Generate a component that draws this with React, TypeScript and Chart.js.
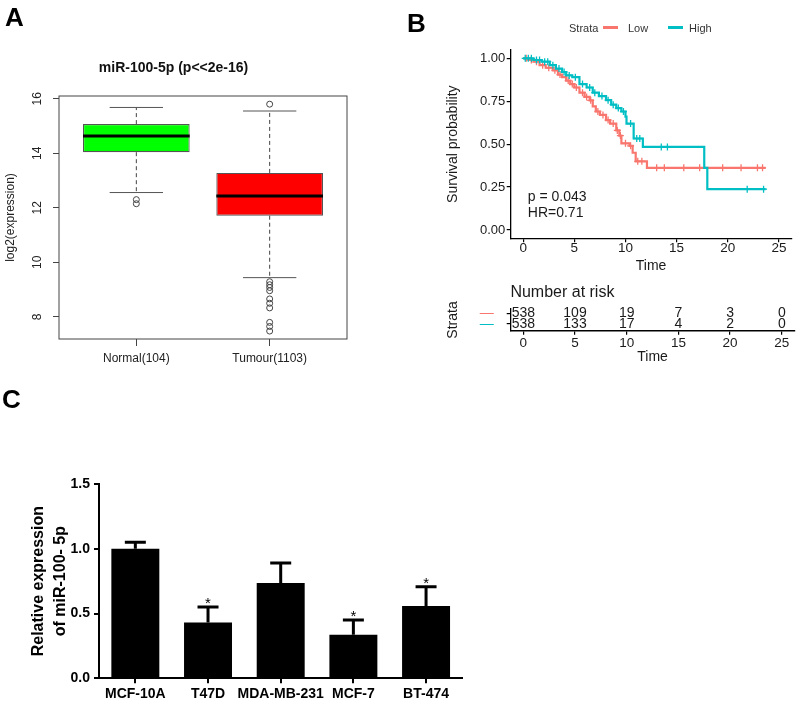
import React, { useEffect, useRef } from 'react';
import { Chart, registerables } from 'chart.js';

Chart.register(...registerables);

const FONT = "'Liberation Sans', Arial, Helvetica, sans-serif";
Chart.defaults.font.family = FONT;

// ---------------- Panel A : box plot ----------------
const boxCategories = ['Normal(104)', 'Tumour(1103)'];
const boxLowerWhisker = [12.56, 9.44];
const boxQ1 = [14.04, 11.71];
const boxMedian = [14.63, 12.43];
const boxQ3 = [15.07, 13.28];
const boxUpperWhisker = [15.68, 15.55];
const normalOutliers = [12.3, 12.15];
const tumourOutliers = [15.8, 9.29, 9.18, 9.08, 8.96, 8.66, 8.5, 8.33, 7.8, 7.65, 7.48];
const boxFill = ['#00FF00', '#FF0000'];
const boxYTicks = [8, 10, 12, 14, 16];
const boxTitle = 'miR-100-5p (p<<2e-16)';

// ---------------- Panel B : Kaplan-Meier ----------------
const kmLowTime = [0, 0.5, 1.0, 1.6, 2.2, 2.9, 3.4, 3.8, 4.2, 4.6, 5.0, 5.5, 6.0, 6.5, 6.8, 7.1, 7.5, 8.1, 8.5, 9.1, 9.4, 9.6, 10.4, 10.7, 11.0, 12.1, 23.7];
const kmLowSurv = [1.0, 0.99, 0.98, 0.96, 0.945, 0.93, 0.905, 0.89, 0.87, 0.85, 0.83, 0.8, 0.775, 0.755, 0.72, 0.69, 0.67, 0.64, 0.62, 0.58, 0.55, 0.505, 0.49, 0.45, 0.4, 0.362, 0.362];
const kmHighTime = [0, 1.0, 1.8, 2.6, 3.2, 3.8, 4.2, 4.8, 5.5, 6.2, 6.8, 7.4, 8.1, 8.6, 9.1, 9.6, 10.0, 10.1, 10.8, 11.7, 17.7, 18.0, 23.7];
const kmHighSurv = [1.0, 0.99, 0.98, 0.96, 0.94, 0.92, 0.9, 0.89, 0.85, 0.83, 0.8, 0.78, 0.756, 0.73, 0.71, 0.69, 0.66, 0.62, 0.533, 0.484, 0.362, 0.238, 0.238];
const censorLowTime = [0.3, 0.8, 1.3, 1.9, 2.5, 3.1, 3.6, 4.4, 4.8, 5.2, 5.8, 6.2, 6.6, 7.3, 7.8, 8.3, 8.8, 9.2, 9.5, 10.0, 10.5, 11.2, 11.6, 13.05, 13.8, 15.7, 17.25, 19.5, 21.3, 22.9, 23.4];
const censorLowSurv = [1.0, 0.99, 0.98, 0.96, 0.945, 0.93, 0.905, 0.87, 0.85, 0.83, 0.8, 0.775, 0.755, 0.69, 0.67, 0.64, 0.62, 0.58, 0.55, 0.505, 0.49, 0.4, 0.4, 0.362, 0.362, 0.362, 0.362, 0.362, 0.362, 0.362, 0.362];
const censorHighTime = [0.2, 0.5, 0.8, 1.3, 1.6, 2.1, 2.4, 2.9, 3.5, 4.0, 4.5, 5.1, 5.8, 6.5, 7.0, 7.7, 8.3, 8.8, 9.3, 9.8, 10.5, 11.1, 11.4, 13.5, 14.1, 21.9, 23.5];
const censorHighSurv = [1.0, 1.0, 1.0, 0.99, 0.99, 0.98, 0.98, 0.96, 0.94, 0.92, 0.9, 0.89, 0.85, 0.83, 0.8, 0.78, 0.756, 0.73, 0.71, 0.69, 0.62, 0.533, 0.533, 0.484, 0.484, 0.238, 0.238];
const kmXTicks = [0, 5, 10, 15, 20, 25];
const kmYTicks = [0, 0.25, 0.5, 0.75, 1.0];
const kmYLabels = ['0.00', '0.25', '0.50', '0.75', '1.00'];
const strataNames = ['Low', 'High'];
const pValueLabel = 'p = 0.043';
const hrLabel = 'HR=0.71';
const riskTimes = [0, 5, 10, 15, 20, 25];
const riskLow = [538, 109, 19, 7, 3, 0];
const riskHigh = [538, 133, 17, 4, 2, 0];

// ---------------- Panel C : bar chart ----------------
const cellLines = ['MCF-10A', 'T47D', 'MDA-MB-231', 'MCF-7', 'BT-474'];
const cellMean = [1.0, 0.43, 0.735, 0.336, 0.558];
const cellErr = [0.05, 0.12, 0.155, 0.114, 0.149];
const cellSig = ['', '*', '', '*', '*'];
const cYTicks = [0, 0.5, 1.0, 1.5];

const LOW = '#F8766D';
const HIGH = '#00BFC4';

// ---------- plugins ----------
const boxPlugin = {
  id: 'boxWhiskers',
  afterDatasetsDraw(chart: any) {
    const { ctx, chartArea, scales } = chart;
    const y = scales.y;
    const meta = chart.getDatasetMeta(1);
    const line = (x1: number, y1: number, x2: number, y2: number) => {
      ctx.beginPath();
      ctx.moveTo(x1, y1);
      ctx.lineTo(x2, y2);
      ctx.stroke();
    };
    ctx.save();
    meta.data.forEach((bar: any, i: number) => {
      const cx = bar.x;
      const hw = bar.width / 2;
      const yU = y.getPixelForValue(boxUpperWhisker[i]);
      const yL = y.getPixelForValue(boxLowerWhisker[i]);
      ctx.strokeStyle = '#444';
      ctx.lineWidth = 1;
      ctx.setLineDash([4, 3]);
      line(cx, y.getPixelForValue(boxQ3[i]), cx, yU);
      line(cx, y.getPixelForValue(boxQ1[i]), cx, yL);
      ctx.setLineDash([]);
      ctx.strokeStyle = '#555';
      line(cx - hw / 2, yU, cx + hw / 2, yU);
      line(cx - hw / 2, yL, cx + hw / 2, yL);
      ctx.strokeStyle = '#000';
      ctx.lineWidth = 3;
      const yM = y.getPixelForValue(boxMedian[i]);
      line(cx - hw, yM, cx + hw, yM);
    });
    ctx.strokeStyle = '#444';
    ctx.lineWidth = 1;
    ctx.strokeRect(chartArea.left, chartArea.top, chartArea.right - chartArea.left, chartArea.bottom - chartArea.top);
    ctx.restore();
  },
};

const kmTextPlugin = {
  id: 'kmText',
  afterDatasetsDraw(chart: any) {
    const { ctx, scales } = chart;
    ctx.save();
    ctx.font = `14px ${FONT}`;
    ctx.fillStyle = '#1a1a1a';
    ctx.textAlign = 'left';
    ctx.textBaseline = 'middle';
    ctx.fillText(pValueLabel, scales.x.getPixelForValue(0.45), scales.y.getPixelForValue(0.194));
    ctx.fillText(hrLabel, scales.x.getPixelForValue(0.45), scales.y.getPixelForValue(0.099));
    ctx.restore();
  },
};

const riskPlugin = {
  id: 'riskTable',
  afterDatasetsDraw(chart: any) {
    const { ctx, scales, chartArea } = chart;
    ctx.save();
    ctx.fillStyle = '#1a1a1a';
    ctx.font = `16px ${FONT}`;
    ctx.textAlign = 'left';
    ctx.textBaseline = 'middle';
    ctx.fillText('Number at risk', chartArea.left, 20.5);
    ctx.font = `14px ${FONT}`;
    ctx.textAlign = 'center';
    riskTimes.forEach((t, j) => {
      const px = scales.x.getPixelForValue(t);
      ctx.fillText(String(riskLow[j]), px, scales.y.getPixelForValue(2));
      ctx.fillText(String(riskHigh[j]), px, scales.y.getPixelForValue(1));
    });
    ctx.restore();
  },
};

const errPlugin = {
  id: 'errorBars',
  afterDatasetsDraw(chart: any) {
    const { ctx, scales } = chart;
    const meta = chart.getDatasetMeta(0);
    ctx.save();
    ctx.strokeStyle = '#000';
    ctx.fillStyle = '#000';
    ctx.lineWidth = 3;
    meta.data.forEach((bar: any, i: number) => {
      const top = scales.y.getPixelForValue(cellMean[i] + cellErr[i]);
      ctx.beginPath();
      ctx.moveTo(bar.x, bar.y);
      ctx.lineTo(bar.x, top);
      ctx.moveTo(bar.x - 10.5, top);
      ctx.lineTo(bar.x + 10.5, top);
      ctx.stroke();
      if (cellSig[i]) {
        ctx.font = `15px ${FONT}`;
        ctx.textAlign = 'center';
        ctx.textBaseline = 'alphabetic';
        ctx.fillText(cellSig[i], bar.x, top + 1);
      }
    });
    ctx.restore();
  },
};

// ---------- configs ----------
function configA(): any {
  const outliers = [
    ...normalOutliers.map((v) => ({ x: 1, y: v })),
    ...tumourOutliers.map((v) => ({ x: 2, y: v })),
  ];
  const txt = '#222';
  return {
    type: 'bar',
    data: {
      datasets: [
        {
          type: 'scatter',
          data: outliers,
          pointStyle: 'circle',
          pointRadius: 3,
          borderColor: '#444',
          backgroundColor: 'rgba(0,0,0,0)',
          borderWidth: 1,
          order: 0,
        },
        {
          type: 'bar',
          data: boxCategories.map((_, i) => ({ x: i + 1, y: [boxQ1[i], boxQ3[i]] })),
          backgroundColor: boxFill,
          borderColor: '#555',
          borderWidth: 1.2,
          borderSkipped: false,
          barPercentage: 0.8,
          categoryPercentage: 1,
          order: 1,
        },
      ],
    },
    options: {
      responsive: false,
      animation: false,
      events: [],
      layout: { padding: { left: 0, right: 59, top: 0, bottom: 0 } },
      plugins: {
        legend: { display: false },
        tooltip: { enabled: false },
        title: {
          display: true,
          text: boxTitle,
          color: '#111',
          font: { size: 14, weight: 'bold' },
          padding: { top: 59.6, bottom: 19.6 },
        },
      },
      scales: {
        x: {
          type: 'linear',
          min: 0.42,
          max: 2.58,
          offset: false,
          afterBuildTicks: (s: any) => {
            s.ticks = boxCategories.map((_, i) => ({ value: i + 1 }));
          },
          afterFit: (s: any) => {
            s.height = 33;
          },
          ticks: {
            callback: (v: number) => boxCategories[v - 1],
            color: txt,
            font: { size: 12 },
            padding: 5.8,
            maxRotation: 0,
            autoSkip: false,
          },
          grid: { drawOnChartArea: false, offset: false, tickLength: 7, color: '#444' },
          border: { display: false },
        },
        y: {
          min: 7.19,
          max: 16.1,
          afterBuildTicks: (s: any) => {
            s.ticks = boxYTicks.map((v) => ({ value: v }));
          },
          afterFit: (s: any) => {
            s.width = 59;
          },
          ticks: {
            minRotation: 90,
            maxRotation: 90,
            crossAlign: 'center',
            padding: 8.5,
            color: txt,
            font: { size: 12 },
          },
          grid: { drawOnChartArea: false, tickLength: 6, color: '#444' },
          border: { display: false },
          title: {
            display: true,
            text: 'log2(expression)',
            color: txt,
            font: { size: 12 },
            padding: { top: 3, bottom: 0 },
          },
        },
      },
    },
    plugins: [boxPlugin],
  };
}

function configB(): any {
  const txt = '#1a1a1a';
  return {
    type: 'line',
    data: {
      datasets: [
        {
          type: 'line',
          label: strataNames[1],
          data: kmHighTime.map((t, i) => ({ x: t, y: kmHighSurv[i] })),
          borderColor: HIGH,
          borderWidth: 2.2,
          pointRadius: 0,
          stepped: true,
          fill: false,
          order: 0,
        },
        {
          type: 'scatter',
          data: censorHighTime.map((t, i) => ({ x: t, y: censorHighSurv[i] })),
          pointStyle: 'cross',
          pointRadius: 3.5,
          borderColor: HIGH,
          borderWidth: 1.3,
          order: 1,
        },
        {
          type: 'line',
          label: strataNames[0],
          data: kmLowTime.map((t, i) => ({ x: t, y: kmLowSurv[i] })),
          borderColor: LOW,
          borderWidth: 2.2,
          pointRadius: 0,
          stepped: true,
          fill: false,
          order: 2,
        },
        {
          type: 'scatter',
          data: censorLowTime.map((t, i) => ({ x: t, y: censorLowSurv[i] })),
          pointStyle: 'cross',
          pointRadius: 3.5,
          borderColor: LOW,
          borderWidth: 1.3,
          order: 3,
        },
      ],
    },
    options: {
      responsive: false,
      animation: false,
      events: [],
      layout: { padding: { left: 0, right: 2.3, top: 49.7, bottom: 0 } },
      plugins: { legend: { display: false }, tooltip: { enabled: false } },
      scales: {
        x: {
          type: 'linear',
          min: -1.25,
          max: 26.25,
          afterBuildTicks: (s: any) => {
            s.ticks = kmXTicks.map((v) => ({ value: v }));
          },
          afterFit: (s: any) => {
            s.height = 36.4;
          },
          ticks: { color: txt, font: { size: 13.5, lineHeight: 1 }, padding: -0.5, maxRotation: 0 },
          grid: { drawOnChartArea: false, tickLength: 3.7, color: '#000', lineWidth: 1.2 },
          border: { display: true, color: '#000', width: 1.3 },
          title: { display: true, text: 'Time', color: txt, font: { size: 14 }, padding: { top: 0, bottom: 0 } },
        },
        y: {
          min: -0.05,
          max: 1.05,
          afterBuildTicks: (s: any) => {
            s.ticks = kmYTicks.map((v) => ({ value: v }));
          },
          afterFit: (s: any) => {
            s.width = 110.4;
          },
          ticks: {
            callback: (v: number) => kmYLabels[kmYTicks.indexOf(v)],
            color: txt,
            font: { size: 13 },
            padding: 1.5,
          },
          grid: { drawOnChartArea: false, tickLength: 3.7, color: '#000', lineWidth: 1.2 },
          border: { display: true, color: '#000', width: 1.3 },
          title: { display: true, text: 'Survival probability', color: txt, font: { size: 14 }, padding: { top: 44.6, bottom: 0 } },
        },
      },
    },
    plugins: [kmTextPlugin],
  };
}

function configRisk(): any {
  const txt = '#1a1a1a';
  return {
    type: 'scatter',
    data: { datasets: [] },
    options: {
      responsive: false,
      animation: false,
      events: [],
      layout: { padding: { left: 0, right: 2.3, top: 37, bottom: 0 } },
      plugins: { legend: { display: false }, tooltip: { enabled: false } },
      scales: {
        x: {
          type: 'linear',
          min: -1.25,
          max: 26.25,
          afterBuildTicks: (s: any) => {
            s.ticks = riskTimes.map((v) => ({ value: v }));
          },
          afterFit: (s: any) => {
            s.height = 41;
          },
          ticks: { color: txt, font: { size: 13.5, lineHeight: 1 }, padding: 2, maxRotation: 0 },
          grid: { drawOnChartArea: false, tickLength: 3.7, color: '#000', lineWidth: 1.2 },
          border: { display: true, color: '#000', width: 1.5 },
          title: { display: true, text: 'Time', color: txt, font: { size: 14 }, padding: { top: 0, bottom: 6.9 } },
        },
        y: {
          type: 'linear',
          min: 0.35,
          max: 2.4,
          afterBuildTicks: (s: any) => {
            s.ticks = [{ value: 1 }, { value: 2 }];
          },
          afterFit: (s: any) => {
            s.width = 110.4;
          },
          ticks: {
            callback: () => '—',
            color: (c: any) => (c.tick && c.tick.value === 2 ? LOW : HIGH),
            font: { size: 14 },
            padding: 13,
          },
          grid: { drawOnChartArea: false, tickLength: 3.7, color: '#000', lineWidth: 1.2 },
          border: { display: true, color: '#000', width: 1.3 },
          title: { display: true, text: 'Strata', color: txt, font: { size: 14 }, padding: { top: 44.6, bottom: 0 } },
        },
      },
    },
    plugins: [riskPlugin],
  };
}

function configC(): any {
  const boldFont = { size: 14, weight: 'bold' };
  return {
    type: 'bar',
    data: {
      labels: cellLines,
      datasets: [
        {
          data: cellMean,
          backgroundColor: '#000',
          borderWidth: 0,
          barPercentage: 0.66,
          categoryPercentage: 1,
        },
      ],
    },
    options: {
      responsive: false,
      animation: false,
      events: [],
      layout: { padding: { left: 0, right: 17.6, top: 104, bottom: 0 } },
      plugins: { legend: { display: false }, tooltip: { enabled: false } },
      scales: {
        x: {
          afterFit: (s: any) => {
            s.height = 23.7;
          },
          ticks: { color: '#000', font: boldFont, padding: 2.3, maxRotation: 0, autoSkip: false },
          grid: { drawOnChartArea: false, offset: false, tickLength: 5, color: '#000', lineWidth: 2 },
          border: { display: true, color: '#000', width: 2 },
        },
        y: {
          min: 0,
          max: 1.5,
          afterBuildTicks: (s: any) => {
            s.ticks = cYTicks.map((v) => ({ value: v }));
          },
          afterFit: (s: any) => {
            s.width = 99;
          },
          ticks: {
            callback: (v: number) => v.toFixed(1),
            color: '#000',
            font: boldFont,
            padding: 4,
          },
          grid: { drawOnChartArea: false, tickLength: 5, color: '#000', lineWidth: 2 },
          border: { display: true, color: '#000', width: 2 },
          title: {
            display: true,
            text: ['Relative expression', 'of miR-100- 5p'],
            color: '#000',
            font: { size: 16, weight: 'bold', lineHeight: 1.375 },
            padding: { top: 28, bottom: 0 },
          },
        },
      },
    },
    plugins: [errPlugin],
  };
}

function ChartBox(props: { left: number; top: number; width: number; height: number; make: () => any }) {
  const ref = useRef<HTMLCanvasElement | null>(null);
  useEffect(() => {
    const chart = new Chart(ref.current as HTMLCanvasElement, props.make());
    return () => chart.destroy();
  }, []);
  return (
    <canvas
      ref={ref}
      width={props.width}
      height={props.height}
      style={{ position: 'absolute', left: props.left, top: props.top, width: props.width, height: props.height }}
    />
  );
}

const letterStyle: React.CSSProperties = {
  position: 'absolute',
  fontFamily: FONT,
  fontWeight: 'bold',
  fontSize: 26,
  lineHeight: '26px',
  color: '#000',
};

const legendText: React.CSSProperties = {
  position: 'absolute',
  top: 19.7,
  fontFamily: FONT,
  fontSize: 11,
  lineHeight: '16px',
  color: '#333',
  whiteSpace: 'nowrap',
};

export default function App() {
  return (
    <div style={{ position: 'absolute', left: 0, top: 0, width: 797, height: 702, background: '#fff', overflow: 'hidden' }}>
      <ChartBox left={0} top={0} width={406} height={372} make={configA} />
      <ChartBox left={400} top={0} width={397} height={275} make={configB} />
      <ChartBox left={400} top={272} width={397} height={100} make={configRisk} />
      <ChartBox left={0} top={380} width={480} height={322} make={configC} />

      <span style={{ ...letterStyle, left: 5, top: 3.6 }}>A</span>
      <span style={{ ...letterStyle, left: 407, top: 9.6 }}>B</span>
      <span style={{ ...letterStyle, left: 2, top: 385.6 }}>C</span>

      <span style={{ ...legendText, left: 569 }}>Strata</span>
      <div style={{ position: 'absolute', left: 603, top: 26.2, width: 15, height: 3, background: LOW }} />
      <span style={{ ...legendText, left: 628 }}>{strataNames[0]}</span>
      <div style={{ position: 'absolute', left: 668, top: 26.2, width: 15, height: 3, background: HIGH }} />
      <span style={{ ...legendText, left: 689 }}>{strataNames[1]}</span>
    </div>
  );
}
